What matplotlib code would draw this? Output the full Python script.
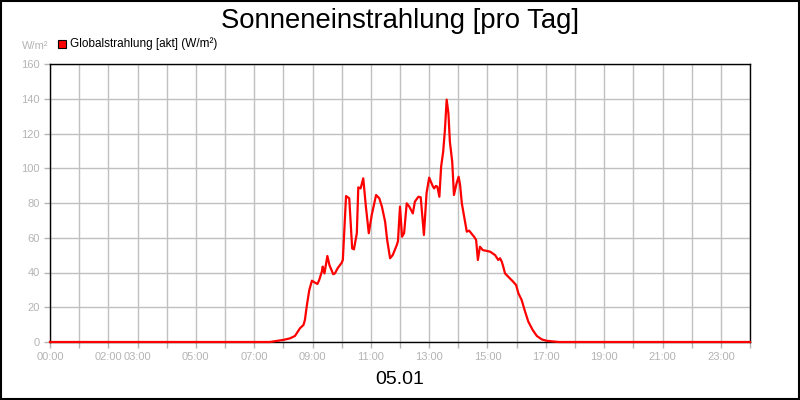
import matplotlib.pyplot as plt
from matplotlib.patches import Rectangle

plt.rcParams['font.family'] = ['Liberation Sans', 'DejaVu Sans']

# hours of the day and global radiation (W/m²)
hours = [0.0, 7.54, 8.0, 8.23, 8.4, 8.57, 8.69, 8.74, 8.8, 8.89, 8.98, 9.09, 9.17,
         9.23, 9.32, 9.35, 9.41, 9.51, 9.58, 9.71, 9.77, 9.86, 10.0, 10.04, 10.15,
         10.26, 10.36, 10.42, 10.52, 10.57, 10.65, 10.74, 10.83, 10.93, 11.03, 11.18,
         11.29, 11.38, 11.49, 11.56, 11.66, 11.75, 11.89, 11.93, 12.0, 12.07, 12.14,
         12.23, 12.32, 12.44, 12.51, 12.63, 12.71, 12.82, 12.91, 13.0, 13.12, 13.17,
         13.23, 13.28, 13.35, 13.41, 13.48, 13.54, 13.6, 13.66, 13.71, 13.79, 13.85,
         13.94, 14.01, 14.06, 14.12, 14.2, 14.29, 14.37, 14.46, 14.54, 14.61, 14.67,
         14.74, 14.84, 14.95, 15.09, 15.26, 15.37, 15.43, 15.49, 15.54, 15.6, 15.71,
         15.88, 15.98, 16.06, 16.17, 16.29, 16.4, 16.55, 16.69, 16.86, 17.03, 17.25,
         17.45, 24.0]
radiation = [0, 0, 1.2, 2.1, 3.5, 7.9, 9.8, 12.7, 20.3, 29.9, 35.3, 34.1, 33.4,
             35.7, 40.5, 43.4, 39.5, 49.5, 44.3, 39.0, 39.5, 42.4, 45.6, 47.2, 84.0,
             82.7, 53.9, 53.3, 62.6, 89.0, 88.4, 94.2, 78.0, 62.6, 73.0, 84.6,
             82.7, 77.9, 69.2, 58.7, 48.2, 50.0, 55.8, 58.0, 77.9, 60.6, 62.6,
             79.8, 77.9, 74.0, 80.8, 83.6, 83.3, 61.6, 85.6, 94.6, 89.8, 88.4,
             89.8, 89.4, 83.6, 100.9, 109.5, 122.0, 139.5, 131.6, 115.3, 103.8, 84.6,
             91.3, 95.1, 90.4, 79.8, 72.1, 63.5, 64.1, 62.2, 60.6, 58.7, 47.2,
             54.8, 52.9, 52.5, 52.0, 50.0, 47.2, 48.2, 46.2, 43.4, 39.5, 37.6,
             34.7, 32.8, 28.0, 24.2, 17.4, 11.7, 6.9, 3.5, 1.5, 0.7, 0.3,
             0, 0]

tick_hours = [0, 2, 3, 5, 7, 9, 11, 13, 15, 17, 19, 21, 23]
tick_labels = ['00:00', '02:00', '03:00', '05:00', '07:00', '09:00', '11:00',
               '13:00', '15:00', '17:00', '19:00', '21:00', '23:00']
y_ticks = [0, 20, 40, 60, 80, 100, 120, 140, 160]

grey = '#b4b4b4'
fig = plt.figure(figsize=(8, 4), dpi=100)
ax = fig.add_axes([0.0625, 0.145, 0.875, 0.695])

ax.plot(hours, radiation, color='#ff0000', lw=1.6, zorder=3, clip_on=False)

ax.set_xlim(0, 24)
ax.set_ylim(0, 160)
ax.set_xticks(range(25), minor=True)
ax.set_xticks(tick_hours)
ax.set_xticklabels(tick_labels)
ax.set_yticks(y_ticks)
ax.grid(True, which='both', color='#c0c0c0', lw=1)
ax.set_axisbelow(True)
ax.tick_params(which='both', colors=grey, labelsize=8, length=4, width=1,
               labelcolor=grey)
for s in ax.spines.values():
    s.set_color('black')
    s.set_linewidth(1)

fig.text(0.5, 0.948, 'Sonneneinstrahlung [pro Tag]', ha='center', va='center',
         fontsize=19.8)
fig.text(0.5, 0.05, '05.01', ha='center', va='center', fontsize=14)
fig.text(0.061, 0.885, 'W/m²', ha='right', va='center', fontsize=8, color=grey)
fig.patches.append(Rectangle((0.0725, 0.88), 0.01, 0.02, transform=fig.transFigure,
                             facecolor='#ff0000', edgecolor='black', lw=0.8))
fig.text(0.0875, 0.89, 'Globalstrahlung [akt] (W/m²)', ha='left', va='center',
         fontsize=8.5)
fig.patches.append(Rectangle((0.001, 0.002), 0.998, 0.996, transform=fig.transFigure,
                             facecolor='none', edgecolor='black', lw=1.5))

fig.savefig('out.png', dpi=100)
